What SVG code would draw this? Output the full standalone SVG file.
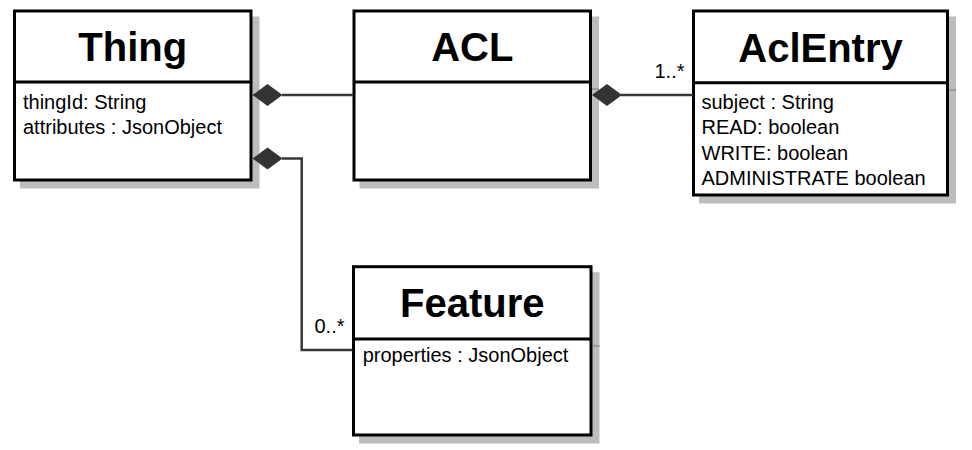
<svg xmlns="http://www.w3.org/2000/svg" width="972" height="450" viewBox="0 0 972 450">
<style>
.shadow{fill:#bdbdbd;stroke:#bdbdbd;stroke-width:3}
.shline{stroke:#999;stroke-width:2}
.box{fill:#fff;stroke:#000;stroke-width:3}
.div{stroke:#000;stroke-width:3}
.title{font-family:"Liberation Sans",Arial,sans-serif;font-weight:bold;font-size:40px;text-anchor:middle;fill:#000}
.attr{font-family:"Liberation Sans",Arial,sans-serif;font-size:20px;fill:#000}
.mult{font-family:"Liberation Sans",Arial,sans-serif;font-size:20px;fill:#000;text-anchor:end}
.conn{fill:none;stroke:#383838;stroke-width:2.5}
.dia{fill:#333;stroke:none}
</style>
<rect width="972" height="450" fill="#fff"/>
<g id="Thing">
<rect class="shadow" x="21.5" y="18" width="236.5" height="169"/>
<rect class="box" x="14.5" y="11" width="236.5" height="169"/>
<line class="div" x1="14.5" y1="82" x2="251" y2="82"/>
<text class="title" x="132.8" y="61">Thing</text>
<text class="attr" x="23" y="109">thingId: String</text>
<text class="attr" x="23" y="134">attributes : JsonObject</text>
</g>
<g id="ACL">
<rect class="shadow" x="361" y="18" width="236.5" height="169"/>
<line class="shline" x1="591" y1="89" x2="599" y2="89"/>
<rect class="box" x="354" y="11" width="236.5" height="169"/>
<line class="div" x1="354" y1="82" x2="590.5" y2="82"/>
<text class="title" x="472.3" y="61">ACL</text>
</g>
<g id="AclEntry">
<rect class="shadow" x="700.5" y="18" width="254" height="184"/>
<line class="shline" x1="949" y1="90" x2="956" y2="90"/>
<rect class="box" x="693.5" y="11" width="254" height="184"/>
<line class="div" x1="693.5" y1="82.7" x2="947.5" y2="82.7"/>
<text class="title" x="820.5" y="61.5">AclEntry</text>
<text class="attr" x="701.5" y="108.7">subject : String</text>
<text class="attr" x="701.5" y="134">READ: boolean</text>
<text class="attr" x="701.5" y="159.5">WRITE: boolean</text>
<text class="attr" x="701.5" y="184.5">ADMINISTRATE boolean</text>
</g>
<g id="Feature">
<rect class="shadow" x="360.5" y="273.7" width="237.5" height="168.3"/>
<line class="shline" x1="593" y1="346" x2="599.5" y2="346"/>
<rect class="box" x="353.5" y="266.7" width="237.5" height="168.3"/>
<line class="div" x1="353.5" y1="339" x2="591" y2="339"/>
<text class="title" x="472.3" y="316.5">Feature</text>
<text class="attr" x="362.7" y="361.7">properties : JsonObject</text>
</g>
<g id="connectors">
<line class="conn" x1="282" y1="95" x2="353" y2="95"/>
<polygon class="dia" points="252.5,95 267.5,84 282.5,95 267.5,106"/>
<line class="conn" x1="621" y1="95" x2="693" y2="95"/>
<polygon class="dia" points="592,95 607,84 622,95 607,106"/>
<text class="mult" x="684.5" y="78.3">1..*</text>
<polyline class="conn" points="282,158.5 301.7,158.5 301.7,350 352.5,350"/>
<polygon class="dia" points="252.5,158.5 267.5,147.5 282.5,158.5 267.5,169.5"/>
<text class="mult" x="344.5" y="332.7">0..*</text>
</g>
</svg>
